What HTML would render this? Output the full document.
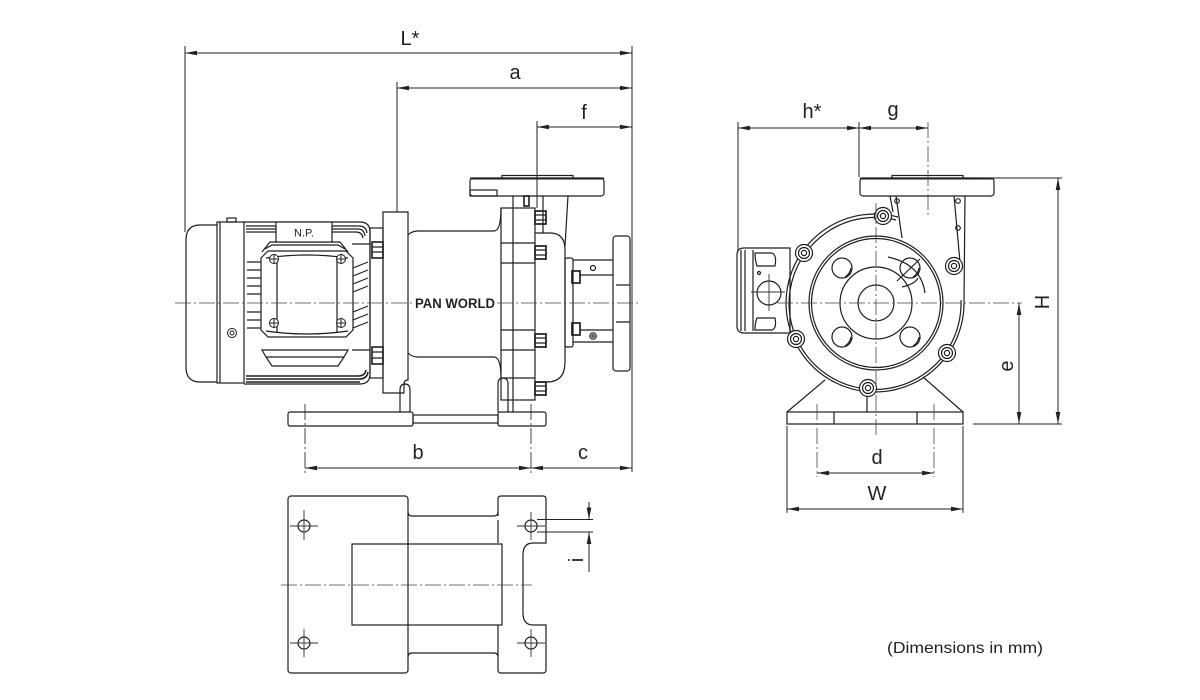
<!DOCTYPE html>
<html><head><meta charset="utf-8"><style>
html,body{margin:0;padding:0;background:#fff;}
svg{display:block;}
text{font-family:"Liberation Sans",sans-serif;fill:#222;}
</style></head><body>
<svg width="1200" height="700" viewBox="0 0 1200 700" xmlns="http://www.w3.org/2000/svg">
<defs>
<marker id="ar" viewBox="0 0 12 6" refX="12" refY="3" markerWidth="12" markerHeight="6" markerUnits="userSpaceOnUse" orient="auto-start-reverse"><path d="M0,0.7 L12,3 L0,5.3 z" fill="#222"/></marker>
</defs>
<rect width="1200" height="700" fill="#fff"/>

<!-- ========== DIMENSIONS (side view) ========== -->
<g stroke="#222" stroke-width="1" fill="none">
<line x1="185" y1="46" x2="185" y2="232"/>
<line x1="632" y1="46" x2="632" y2="472"/>
<line x1="185" y1="53" x2="632" y2="53" marker-start="url(#ar)" marker-end="url(#ar)"/>
<line x1="397" y1="82" x2="397" y2="212"/>
<line x1="397" y1="88" x2="632" y2="88" marker-start="url(#ar)" marker-end="url(#ar)"/>
<line x1="537" y1="121" x2="537" y2="208"/>
<line x1="537" y1="127" x2="632" y2="127" marker-start="url(#ar)" marker-end="url(#ar)"/>
<line x1="305" y1="468" x2="531" y2="468" marker-start="url(#ar)" marker-end="url(#ar)"/>
<line x1="531" y1="468" x2="632" y2="468" marker-start="url(#ar)" marker-end="url(#ar)"/>
</g>
<g stroke="#333" stroke-width="0.9" fill="none" stroke-dasharray="16 3 2 3">
<line x1="305" y1="404" x2="305" y2="476"/>
<line x1="531" y1="404" x2="531" y2="476"/>
</g>
<g font-size="20" text-anchor="middle">
<text x="410" y="45">L*</text>
<text x="515" y="79">a</text>
<text x="584" y="119">f</text>
<text x="418" y="459">b</text>
<text x="583" y="459">c</text>
</g>

<!-- ========== SIDE VIEW: MOTOR ========== -->
<g stroke="#1e1e1e" stroke-width="1.2" fill="none">
<path d="M217,225 H200 Q186,225 186,240 V367 Q186,382 200,382 H217"/>
<rect x="217" y="222" width="27" height="161"/>
<line x1="220" y1="222" x2="220" y2="383"/>
<rect x="227" y="218" width="9" height="4"/>
<path d="M244,222 H360 Q370,222 370,232 V374 Q370,384 360,384 H244"/>
<path d="M246,226 H359 Q366,226 367,233"/>
<path d="M246,229 H358 Q364,229 365,236"/>
<path d="M246,232 H356 Q362,232 363,238"/>
<path d="M246,376 H358 Q365,376 366,370" stroke-width="1.6"/>
<path d="M246,379 H359 Q367,379 368,372" stroke-width="1.6"/>
<path d="M246,382 H360" stroke-width="1.6"/>
<path d="M262,252 L270,242 H340 L348,252"/>
<path d="M265,249 L272,245 H338 L345,249"/>
<path d="M268,251 H346 L353,258 V330 L346,337 H268 L261,330 V258 Z"/>
<line x1="277" y1="256" x2="277" y2="332"/>
<line x1="337" y1="256" x2="337" y2="332"/>
<path d="M266,258 Q307,252 348,258"/>
<path d="M266,331 Q307,337 348,331"/>
<path d="M262,350 H348 L344,357 H266 Z"/>
<path d="M266,357 L272,366 H338 L344,357"/>
<path d="M247,262 H261 M247,270 H261 M247,278 H261 M247,286 H261 M247,294 H261 M247,312 H261 M247,320 H261 M247,328 H261"/>
<path d="M353,268 L368,262 M353,276 L368,270 M353,284 L368,278 M353,292 L368,286 M353,312 L368,306 M353,320 L368,314 M353,328 L368,322"/>
<path d="M352,244 H370 M352,350 H370"/>
</g>
<rect x="276" y="222" width="56" height="20" fill="#fff" stroke="#1e1e1e" stroke-width="1.2"/>
<text x="304" y="236.5" font-size="11" text-anchor="middle">N.P.</text>
<g stroke="#1e1e1e" stroke-width="1" fill="#fff">
<circle cx="274" cy="259" r="4.5"/><circle cx="341" cy="259" r="4.5"/>
<circle cx="274" cy="323" r="4.5"/><circle cx="341" cy="323" r="4.5"/>
<path d="M270,259 H278 M274,255 V263 M337,259 H345 M341,255 V263 M270,323 H278 M274,319 V327 M337,323 H345 M341,319 V327" fill="none"/>
<circle cx="232" cy="333" r="4.5"/><circle cx="232" cy="333" r="2"/>
</g>
<g stroke="#1e1e1e" stroke-width="1.2" fill="none">
<rect x="370" y="228" width="13" height="150"/>
<rect x="372" y="242" width="11" height="16" stroke-width="1.6"/>
<rect x="372" y="347" width="11" height="17" stroke-width="1.6"/>
<path d="M372,247 H383 M372,252 H383 M372,352 H383 M372,358 H383"/>
<path d="M383,212 H408 V380 Q404,380 404,384 V393 H383 Z"/>
<path d="M408,235 Q412,231 418,231 H494 Q501,231 501,208"/>
<path d="M408,353 Q412,357 418,357 H494 Q501,357 501,378"/>
<rect x="501" y="208" width="34" height="192"/>
<line x1="513" y1="208" x2="513" y2="412"/>
<path d="M501,243 H535 M501,263 H535 M501,330 H535 M501,350 H535 M501,378 H535"/>
<g stroke-width="1.7"><rect x="535" y="211" width="11" height="13"/><rect x="535" y="246" width="11" height="13"/><rect x="535" y="334" width="11" height="13"/><rect x="535" y="382" width="11" height="13"/></g>
<path d="M535,215 H546 M535,220 H546 M535,250 H546 M535,255 H546 M535,338 H546 M535,343 H546 M535,386 H546 M535,391 H546"/>
<rect x="524" y="196" width="5" height="10" stroke-width="1.6"/>
<rect x="470" y="178" width="134" height="18" rx="3"/>
<line x1="470" y1="178.5" x2="604" y2="178.5" stroke-width="2"/>
<rect x="502" y="175.5" width="71" height="3"/>
<rect x="470" y="190" width="27" height="6"/>
<path d="M513,196 V208 M543,196 V233 M568,196 L565,246"/>
<path d="M535,233 H550 Q565,233 565,250 V362 Q565,382 547,382 H535"/>
<rect x="565" y="258" width="8" height="89" rx="2"/>
<g stroke-width="1.7"><rect x="572" y="271" width="8" height="12"/><rect x="572" y="323" width="8" height="12"/></g>
<path d="M573,260 H613 M580,275 H613 M580,330 H613 M573,342 H613"/>
<circle cx="593" cy="268" r="2.5"/><circle cx="593" cy="336" r="3.2"/><circle cx="593" cy="336" r="1.2"/>
<rect x="613" y="236" width="17" height="135" rx="3"/>
<path d="M616,285 H630 M616,322 H630"/>
<rect x="288" y="412" width="125" height="14" rx="2"/>
<rect x="413" y="415" width="85" height="8"/>
<rect x="498" y="412" width="48" height="14" rx="2"/>
<path d="M400,412 V390 Q400,384 405,384 Q410,384 410,390 V412"/>
<path d="M498,412 V384 Q498,378 503,378 Q508,378 508,384 V412"/>
</g>
<text x="455" y="308" font-size="13.5" font-weight="bold" textLength="80" lengthAdjust="spacingAndGlyphs" text-anchor="middle">PAN  WORLD</text>
<g stroke="#444" stroke-width="0.8" fill="none" stroke-dasharray="16 3 2 3">
<line x1="175" y1="303" x2="414" y2="303"/>
<line x1="497" y1="303" x2="640" y2="303"/>
</g>

<!-- ========== BOTTOM VIEW ========== -->
<g stroke="#1e1e1e" stroke-width="1.2" fill="none">
<rect x="288" y="496" width="120" height="177" rx="3"/>
<path d="M498,516 V499 Q498,496 501,496 H543 Q546,496 546,499 V543 H533 Q523,543 523,555 V613 Q523,625 533,625 H546 V670 Q546,673 543,673 H501 Q498,673 498,670 V653"/>
<path d="M408,512 Q408,516 412,516 H494 Q498,516 498,512"/>
<path d="M408,657 Q408,653 412,653 H494 Q498,653 498,657"/>
<rect x="352" y="544" width="150" height="81"/>
<path d="M498,520 V543 M498,625 V653"/>
<circle cx="304" cy="526" r="6"/><circle cx="304" cy="643" r="6"/>
<circle cx="531" cy="526" r="6"/><circle cx="531" cy="643" r="6"/>
</g>
<g stroke="#333" stroke-width="0.9" fill="none">
<path d="M290,526 H318 M304,510 V540 M290,643 H318 M304,629 V657 M517,526 H545 M531,512 V540 M517,643 H545 M531,629 V657"/>
</g>
<g stroke="#444" stroke-width="0.8" fill="none" stroke-dasharray="16 3 2 3">
<line x1="281" y1="585" x2="532" y2="585"/>
</g>
<g stroke="#222" stroke-width="1" fill="none">
<line x1="537" y1="519.5" x2="593" y2="519.5"/>
<line x1="537" y1="532" x2="593" y2="532"/>
<line x1="589" y1="502" x2="589" y2="519.5" marker-end="url(#ar)"/>
<line x1="589" y1="572" x2="589" y2="532" marker-end="url(#ar)"/>
</g>
<text transform="translate(583,560) rotate(-90)" font-size="20" text-anchor="middle">i</text>

<!-- ========== FRONT VIEW ========== -->
<g stroke="#1e1e1e" stroke-width="1.2" fill="none">
<rect x="860" y="178" width="134" height="18" rx="3"/>
<line x1="860" y1="178.5" x2="994" y2="178.5" stroke-width="2"/>
<rect x="892" y="175.5" width="71" height="3"/>
<path d="M890,196 L893,212 M896,196 L902,238 M954,196 L960,262 M965,196 L964,300"/>
<circle cx="897" cy="201" r="2.3"/><circle cx="958" cy="201" r="2.3"/><circle cx="958" cy="228" r="2.3"/>
<path d="M898,217 A89,89 0 1,0 964,300"/>
<path d="M896,220 A86,86 0 1,0 961,300"/>
<circle cx="876" cy="303" r="67"/>
<circle cx="876" cy="303" r="64.5"/>
<circle cx="876" cy="303" r="36"/>
<circle cx="876" cy="303" r="18"/>
<circle cx="842" cy="268" r="10"/><circle cx="910" cy="268" r="10"/>
<circle cx="842" cy="337" r="10"/><circle cx="910" cy="337" r="10"/>
<path d="M845,277 Q850,274 851,268 M913,277 Q918,274 919,268 M845,346 Q850,343 851,337 M913,346 Q918,343 919,337"/>
<path d="M888,257 Q921,264 925,293 M897,281 L920,259 M902,287 Q915,284 918,278"/>
<path d="M790,248 H744 Q737,248 737,255 V326 Q737,333 744,333 H790 Z"/>
<path d="M741,250 V331 M745,250 V331 M753,250 V331"/>
<path d="M755,253 H772 Q777,255 775,266 H757 Q755,260 755,253 Z"/>
<path d="M755,330 H772 Q777,328 775,318 H757 Q755,323 755,330 Z"/>
<circle cx="769" cy="293" r="12"/>
<circle cx="759" cy="273" r="1.5"/>
<path d="M825,380 L787,412 M923,377 L963,412"/>
<rect x="787" y="412" width="176" height="12"/>
<path d="M834,412 V424 M917,412 V424 M867,396 V412"/>
</g>
<g stroke="#1e1e1e" stroke-width="1.2" fill="#fff">
<circle cx="883" cy="216" r="8.5"/><circle cx="883" cy="216" r="5.5"/><circle cx="883" cy="216" r="2.6"/>
<circle cx="804" cy="253" r="8.5"/><circle cx="804" cy="253" r="5.5"/><circle cx="804" cy="253" r="2.6"/>
<circle cx="954" cy="266" r="8.5"/><circle cx="954" cy="266" r="5.5"/><circle cx="954" cy="266" r="2.6"/>
<circle cx="796" cy="339" r="8.5"/><circle cx="796" cy="339" r="5.5"/><circle cx="796" cy="339" r="2.6"/>
<circle cx="947" cy="353" r="8.5"/><circle cx="947" cy="353" r="5.5"/><circle cx="947" cy="353" r="2.6"/>
<circle cx="868" cy="388" r="8.5"/><circle cx="868" cy="388" r="5.5"/><circle cx="868" cy="388" r="2.6"/>
</g>
<g stroke="#333" stroke-width="0.9" fill="none">
<path d="M751,292 H785 M769,274 V311"/>
</g>
<g stroke="#444" stroke-width="0.8" fill="none" stroke-dasharray="16 3 2 3">
<line x1="876" y1="203" x2="876" y2="437"/>
<line x1="777" y1="303" x2="1022" y2="303"/>
<line x1="928" y1="122" x2="928" y2="215"/>
<line x1="817" y1="404" x2="817" y2="477"/>
<line x1="934" y1="404" x2="934" y2="477"/>
</g>
<g stroke="#222" stroke-width="1" fill="none">
<line x1="738" y1="122" x2="738" y2="250"/>
<line x1="859" y1="122" x2="859" y2="177"/>
<line x1="738" y1="128" x2="859" y2="128" marker-start="url(#ar)" marker-end="url(#ar)"/>
<line x1="859" y1="128" x2="928" y2="128" marker-start="url(#ar)" marker-end="url(#ar)"/>
<line x1="972" y1="178" x2="1062" y2="178"/>
<line x1="973" y1="424" x2="1062" y2="424"/>
<line x1="1058" y1="178" x2="1058" y2="424" marker-start="url(#ar)" marker-end="url(#ar)"/>
<line x1="1019" y1="303" x2="1019" y2="424" marker-start="url(#ar)" marker-end="url(#ar)"/>
<line x1="787" y1="426" x2="787" y2="513"/>
<line x1="963" y1="426" x2="963" y2="513"/>
<line x1="817" y1="473" x2="934" y2="473" marker-start="url(#ar)" marker-end="url(#ar)"/>
<line x1="787" y1="509" x2="963" y2="509" marker-start="url(#ar)" marker-end="url(#ar)"/>
</g>
<g font-size="20" text-anchor="middle">
<text x="812" y="118">h*</text>
<text x="893" y="116">g</text>
<text x="877" y="464">d</text>
<text x="877" y="500">W</text>
<text transform="translate(1049,302) rotate(-90)">H</text>
<text transform="translate(1013,366) rotate(-90)">e</text>
</g>

<text x="887" y="653" font-size="16" textLength="156" lengthAdjust="spacingAndGlyphs" fill="#222">(Dimensions in mm)</text>
</svg>
</body></html>
